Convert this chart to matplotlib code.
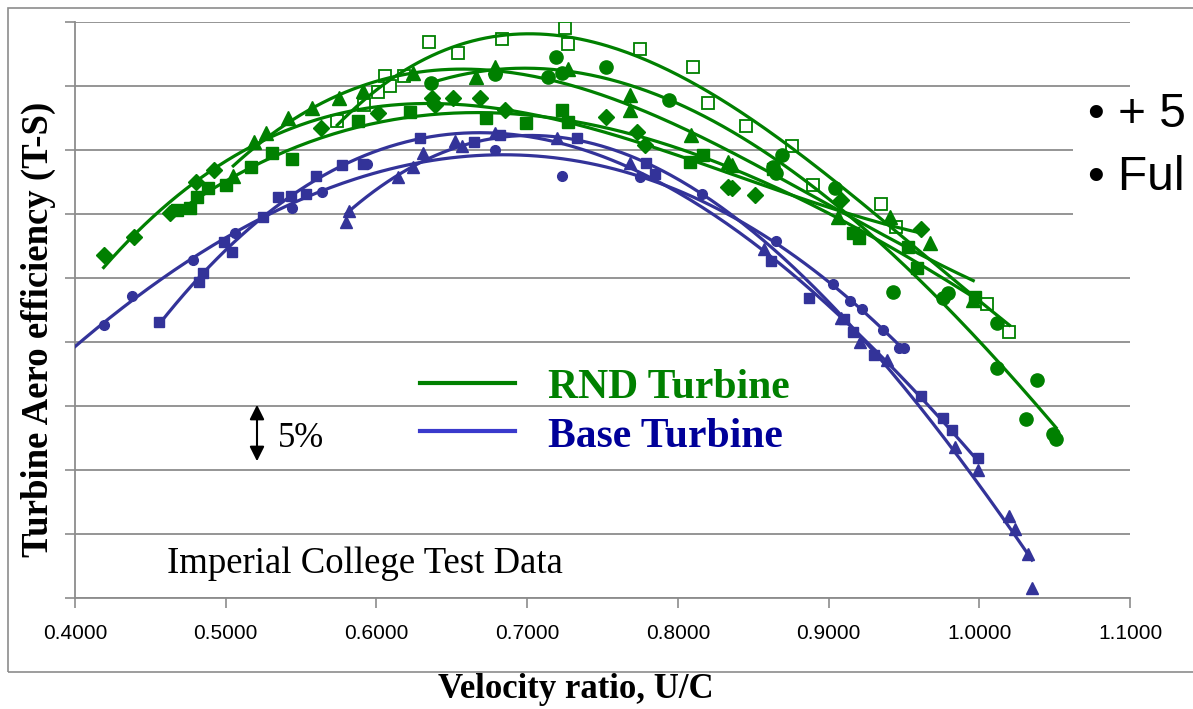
import numpy as np
import matplotlib.pyplot as plt
from matplotlib.lines import Line2D
from matplotlib.patches import Rectangle, FancyArrowPatch

GREEN = '#008000'
BLUE = '#333399'
GRID = '#8c8c8c'

# RND turbine test builds (velocity ratio, efficiency %)
rnd_open_sq_x = [0.574, 0.592, 0.601, 0.606, 0.609, 0.618, 0.635, 0.654, 0.683, 0.725, 0.727,
                 0.775, 0.810, 0.820, 0.845, 0.876, 0.890, 0.935, 0.945, 1.005, 1.020]
rnd_open_sq_y = [77.3, 78.5, 79.5, 80.8, 80.0, 80.8, 83.4, 82.6, 83.7, 84.5, 83.3,
                 82.9, 81.5, 78.7, 76.9, 75.3, 72.3, 70.8, 69.0, 63.0, 60.8]

rnd_circle_x = [0.636, 0.679, 0.714, 0.719, 0.723, 0.752, 0.794, 0.863, 0.865, 0.869,
                0.904, 0.943, 0.976, 0.979, 1.012, 1.012, 1.031, 1.038, 1.049, 1.051]
rnd_circle_y = [80.2, 80.9, 80.7, 82.3, 81.0, 81.5, 78.9, 73.7, 73.2, 74.6,
                72.0, 63.9, 63.4, 63.8, 61.5, 58.0, 54.0, 57.0, 52.8, 52.4]

rnd_tri_x = [0.505, 0.519, 0.527, 0.541, 0.557, 0.575, 0.591, 0.624, 0.666, 0.679,
             0.727, 0.768, 0.768, 0.809, 0.833, 0.836, 0.906, 0.941, 0.967, 0.996]
rnd_tri_y = [73.0, 75.6, 76.3, 77.5, 78.3, 79.1, 79.6, 81.0, 80.7, 81.5,
             81.3, 79.3, 78.1, 76.2, 74.1, 73.8, 69.8, 69.8, 67.7, 63.3]

rnd_diam_x = [0.419, 0.439, 0.463, 0.480, 0.492, 0.563, 0.601, 0.637, 0.639, 0.651,
              0.669, 0.685, 0.752, 0.773, 0.778, 0.833, 0.836, 0.851, 0.908, 0.961]
rnd_diam_y = [66.8, 68.2, 70.1, 72.5, 73.4, 76.7, 77.9, 79.1, 78.5, 79.1,
              79.1, 78.1, 77.6, 76.4, 75.4, 72.1, 72.0, 71.5, 71.1, 68.8]

rnd_sq_x = [0.468, 0.476, 0.481, 0.488, 0.500, 0.517, 0.531, 0.544, 0.588, 0.622, 0.673,
            0.699, 0.723, 0.727, 0.808, 0.817, 0.863, 0.916, 0.920, 0.953, 0.959, 0.997]
rnd_sq_y = [70.3, 70.5, 71.3, 72.0, 72.3, 73.7, 74.8, 74.3, 77.3, 78.0, 77.5,
            77.1, 78.1, 77.2, 74.1, 74.6, 73.5, 68.5, 68.1, 67.4, 65.8, 63.5]

# Base turbine test builds
base_circle_x = [0.419, 0.438, 0.478, 0.506, 0.544, 0.564, 0.594, 0.679, 0.723,
                 0.775, 0.816, 0.865, 0.903, 0.914, 0.922, 0.936, 0.947, 0.950]
base_circle_y = [61.3, 63.6, 66.4, 68.5, 70.5, 71.7, 73.9, 75.0, 73.0,
                 72.9, 71.6, 67.9, 64.5, 63.2, 62.6, 60.9, 59.5, 59.5]

base_sq_x = [0.456, 0.482, 0.485, 0.499, 0.504, 0.525, 0.535, 0.543, 0.553, 0.560, 0.577,
             0.591, 0.629, 0.665, 0.682, 0.733, 0.779, 0.785, 0.862, 0.887, 0.910,
             0.916, 0.930, 0.961, 0.976, 0.982, 0.999]
base_sq_y = [61.6, 64.7, 65.4, 67.8, 67.0, 69.8, 71.3, 71.4, 71.6, 73.0, 73.8,
             73.9, 75.9, 75.6, 76.2, 75.9, 74.0, 73.1, 66.3, 63.4, 61.8,
             60.8, 59.0, 55.8, 54.1, 53.1, 50.9]

base_tri_x = [0.580, 0.582, 0.614, 0.624, 0.631, 0.652, 0.657, 0.679, 0.720, 0.768,
              0.857, 0.908, 0.921, 0.939, 0.984, 0.999, 1.020, 1.024, 1.032, 1.035]
base_tri_y = [69.4, 70.2, 72.9, 73.7, 74.8, 75.7, 75.3, 76.3, 75.9, 74.0,
              67.3, 61.9, 60.0, 58.6, 51.8, 50.0, 46.4, 45.4, 43.4, 40.8]

xticks = [0.4, 0.5, 0.6, 0.7, 0.8, 0.9, 1.0, 1.1]

W, H = 1193, 709
fig = plt.figure(figsize=(W / 100, H / 100), dpi=100)
ax = fig.add_axes([75 / W, 1 - 598 / H, (1130 - 75) / W, (598 - 22) / H])

series = [
    (rnd_open_sq_x, rnd_open_sq_y, GREEN, dict(marker='s', ms=8, mfc='white', mec=GREEN, mew=1.3), None),
    (rnd_circle_x, rnd_circle_y, GREEN, dict(marker='o', ms=9.5), None),
    (rnd_tri_x, rnd_tri_y, GREEN, dict(marker='^', ms=10), None),
    (rnd_diam_x, rnd_diam_y, GREEN, dict(marker='D', ms=8), None),
    (rnd_sq_x, rnd_sq_y, GREEN, dict(marker='s', ms=9), None),
    (base_circle_x, base_circle_y, BLUE, dict(marker='o', ms=7), 0.38),
    (base_sq_x, base_sq_y, BLUE, dict(marker='s', ms=7.5), None),
    (base_tri_x, base_tri_y, BLUE, dict(marker='^', ms=8), None),
]

for xs, ys, col, mk, lo in series:
    xs = np.array(xs)
    ys = np.array(ys)
    style = dict(color=col, mec=col)
    style.update(mk)
    ax.plot(xs, ys, ls='none', zorder=3, **style)
    # polynomial trendline over data range
    p = np.polyfit(xs, ys, 3)
    xx = np.linspace(lo if lo else xs.min(), xs.max(), 200)
    ax.plot(xx, np.polyval(p, xx), color=col, lw=2.3, zorder=4)

ax.set_xlim(0.4, 1.1)
ax.set_ylim(40, 85)
ax.set_xticks(xticks)
ax.set_xticklabels([f'{v:.4f}' for v in xticks], fontfamily='Liberation Sans', fontsize=15)
ax.set_yticks(np.arange(40, 86, 5))
ax.tick_params(axis='y', labelleft=False, length=7, color=GRID, width=1.2)
ax.tick_params(axis='x', length=7, color=GRID, width=1.2, pad=12)
ax.yaxis.grid(True, color=GRID, lw=1.3)
ax.set_axisbelow(True)
for s in ['top', 'right']:
    ax.spines[s].set_visible(False)
for s in ['left', 'bottom']:
    ax.spines[s].set_color(GRID)
    ax.spines[s].set_linewidth(1.3)

# outer chart frame
fig.patches.append(Rectangle((8 / W, 1 - 672 / H), 1.2, (672 - 8) / H, transform=fig.transFigure,
                             fill=False, edgecolor=GRID, lw=1.2, zorder=1))
# slide text box covering the right side
fig.patches.append(Rectangle((1073 / W, 1 - 255 / H), 0.2, 160 / H, transform=fig.transFigure,
                             facecolor='white', edgecolor='none', zorder=2))

serif = 'Liberation Serif'
fig.text(38 / W, 1 - 329 / H, 'Turbine Aero efficiency (T-S)', rotation=90, ha='center', va='center',
         fontfamily=serif, fontweight='bold', fontsize=26.5)
fig.text(576 / W, 1 - 689 / H, 'Velocity ratio, U/C', ha='center', va='center',
         fontfamily=serif, fontweight='bold', fontsize=25)

# legend
fig.lines.append(Line2D([420 / W, 515 / W], [1 - 383 / H, 1 - 383 / H], transform=fig.transFigure,
                        color=GREEN, lw=3))
fig.lines.append(Line2D([420 / W, 515 / W], [1 - 431 / H, 1 - 431 / H], transform=fig.transFigure,
                        color='#3a3acc', lw=3))
fig.text(548 / W, 1 - 398 / H, 'RND Turbine', color=GREEN, fontfamily=serif, fontweight='bold',
         fontsize=30, va='baseline')
fig.text(548 / W, 1 - 447 / H, 'Base Turbine', color='#000099', fontfamily=serif, fontweight='bold',
         fontsize=30, va='baseline')

# 5% scale arrow
fig.patches.append(FancyArrowPatch((257 / W, 1 - 402 / H), (257 / W, 1 - 464 / H),
                                   transform=fig.transFigure, arrowstyle='<|-|>', mutation_scale=22,
                                   color='black', lw=1.5, zorder=3))
fig.text(278 / W, 1 - 447 / H, '5%', fontfamily=serif, fontsize=25, va='baseline')
fig.text(167 / W, 1 - 573 / H, 'Imperial College Test Data', fontfamily=serif, fontsize=26.5,
         va='baseline')

# slide bullets at the right edge
fig.text(1088 / W, 1 - 127 / H, '\u2022 + 5', fontfamily='Liberation Sans', fontsize=34.5,
         va='baseline', zorder=5)
fig.text(1088 / W, 1 - 190 / H, '\u2022 Ful', fontfamily='Liberation Sans', fontsize=34.5,
         va='baseline', zorder=5)

fig.savefig('out.png', dpi=100)
